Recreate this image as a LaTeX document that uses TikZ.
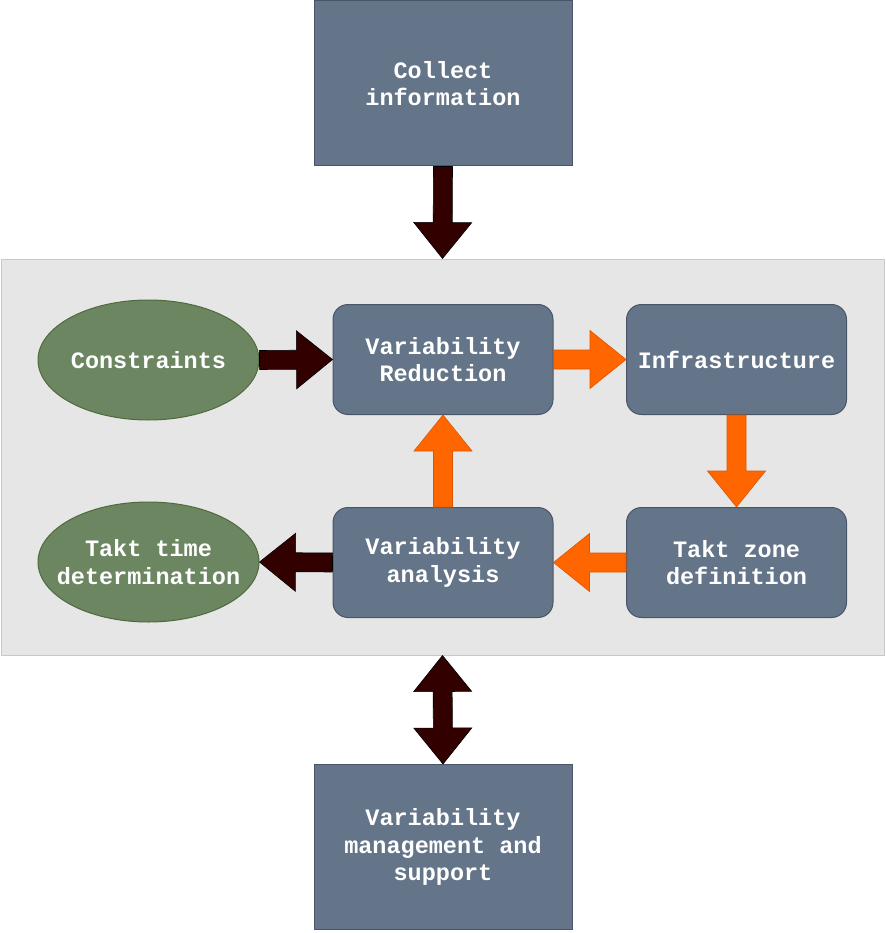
\documentclass[tikz,border=0pt]{standalone}
\usepackage{fontspec}
\newfontfamily\courfont{Liberation Mono}
\usetikzlibrary{calc,shapes.geometric}
\definecolor{boxfill}{HTML}{647489}
\definecolor{boxline}{HTML}{4A5568}
\definecolor{ellfill}{HTML}{6B8660}
\definecolor{ellline}{HTML}{4F6B3D}
\definecolor{darkarrow}{HTML}{330000}
\definecolor{orangearrow}{HTML}{FF6600}
\definecolor{orangeline}{HTML}{DD5500}
\definecolor{panelfill}{HTML}{E6E6E6}
\definecolor{panelline}{HTML}{C8C8C8}
\newcommand{\myblockarrow}[3]{%
  \coordinate (ba-b) at ($(#3)!36pt!(#2)$);
  \draw[#1] ($(#2)!9.5pt!90:(#3)$) -- ($(ba-b)!9.5pt!90:(#3)$) -- ($(ba-b)!29pt!90:(#3)$) -- (#3)
    -- ($(ba-b)!29pt!-90:(#3)$) -- ($(ba-b)!9.5pt!-90:(#3)$) -- ($(#2)!9.5pt!-90:(#3)$) -- cycle;}
\newcommand{\mydoublearrow}[3]{%
  \coordinate (da-a) at ($(#2)!36pt!(#3)$);
  \coordinate (da-b) at ($(#3)!36pt!(#2)$);
  \draw[#1] (#2) -- ($(da-a)!29pt!90:(#3)$) -- ($(da-a)!9.5pt!90:(#3)$) -- ($(da-b)!9.5pt!90:(#3)$)
    -- ($(da-b)!29pt!90:(#3)$) -- (#3) -- ($(da-b)!29pt!-90:(#3)$) -- ($(da-b)!9.5pt!-90:(#3)$)
    -- ($(da-a)!9.5pt!-90:(#3)$) -- ($(da-a)!29pt!-90:(#3)$) -- cycle;}
\begin{document}
\begin{tikzpicture}[x=1pt,y=-1pt,
  txt/.style={text=white, font=\courfont\bfseries\fontsize{23.5}{27.5}\selectfont, align=center, inner sep=1pt},
  sqbox/.style={txt, rectangle, fill=boxfill, draw=boxline, line width=1pt, minimum width=258pt, minimum height=165pt},
  rbox/.style={txt, rectangle, rounded corners=15pt, fill=boxfill, draw=boxline, line width=1pt, minimum width=220pt, minimum height=110pt},
  oval/.style={txt, ellipse, fill=ellfill, draw=ellline, line width=1pt, minimum width=221pt, minimum height=120pt, inner xsep=-15pt, inner ysep=0pt},
  darkarr/.style={fill=darkarrow, draw=black, line width=0.6pt, line join=miter},
  orarr/.style={fill=orangearrow, draw=orangeline, line width=0.6pt, line join=miter}]
\useasboundingbox (0,0) rectangle (885,933);
\node[rectangle, fill=panelfill, draw=panelline, line width=1pt, minimum width=883pt, minimum height=396pt] (panel) at (442.5,457) {};
\node[sqbox] (top) at (443,83.5) {Collect\\information};
\node[sqbox] (bot) at (443,847) {Variability\\management and\\support};
\node[oval] (cons) at (148.5,360) {Constraints};
\node[oval] (tt) at (148.5,562) {Takt time\\determination};
\node[rbox] (vr) at (443,359.5) {Variability\\Reduction};
\node[rbox] (inf) at (736.5,359.5) {Infrastructure};
\node[rbox] (tz) at (736.5,562.5) {Takt zone\\definition};
\node[rbox] (va) at (443,562.5) {Variability\\analysis};
\myblockarrow{darkarr}{top.south}{panel.north}
\myblockarrow{darkarr}{cons.east}{vr.west}
\myblockarrow{orarr}{vr.east}{inf.west}
\myblockarrow{orarr}{inf.south}{tz.north}
\myblockarrow{orarr}{tz.west}{va.east}
\myblockarrow{orarr}{va.north}{vr.south}
\myblockarrow{darkarr}{va.west}{tt.east}
\mydoublearrow{darkarr}{panel.south}{bot.north}
\end{tikzpicture}
\end{document}
